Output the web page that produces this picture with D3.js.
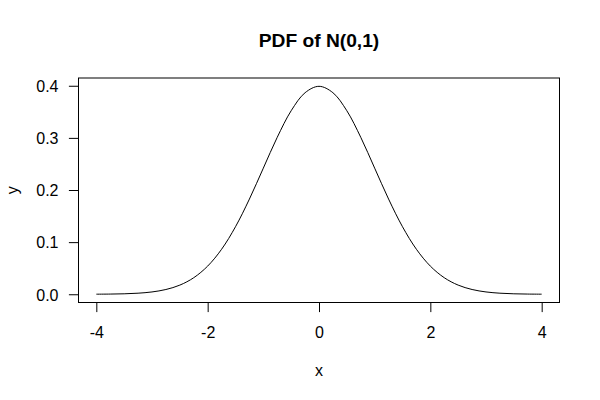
<!DOCTYPE html>
<html>
<head>
<meta charset="utf-8">
<script src="https://cdn.jsdelivr.net/npm/d3@7"></script>
<style>
html,body{margin:0;padding:0;background:#fff;}
svg{display:block;}
text{font-family:Arial,"Liberation Sans",sans-serif;fill:#000;}
</style>
</head>
<body>
<svg id="chart" width="600" height="400"></svg>
<script>
// Values (density curve)
const xValues = [-4,-3.75,-3.5,-3.25,-3,-2.75,-2.5,-2.25,-2,-1.75,-1.5,-1.25,-1,-0.75,-0.5,-0.25,0,
                 0.25,0.5,0.75,1,1.25,1.5,1.75,2,2.25,2.5,2.75,3,3.25,3.5,3.75,4];
const yValues = [0.000134,0.000353,0.000873,0.002029,0.004432,0.009094,0.017528,0.031740,0.053991,0.086277,0.129518,0.182649,0.241971,0.301137,0.352065,0.386668,0.398942,
                 0.386668,0.352065,0.301137,0.241971,0.182649,0.129518,0.086277,0.053991,0.031740,0.017528,0.009094,0.004432,0.002029,0.000873,0.000353,0.000134];
const xTicks = [-4,-2,0,2,4];
const xTickLabels = ["-4","-2","0","2","4"];
const yTicks = [0.0,0.1,0.2,0.3,0.4];
const yTickLabels = ["0.0","0.1","0.2","0.3","0.4"];
const titleText = "PDF of N(0,1)";
const xLabel = "x";
const yLabel = "y";

const svg = d3.select("#chart");
const mLeft = 78.5, mRight = 559.5, mTop = 78, mBottom = 302.5;

const xMin = d3.min(xValues), xMax = d3.max(xValues);
const yMin = d3.min(yValues), yMax = d3.max(yValues);
const xPad = (xMax - xMin) * 0.04, yPad = (yMax - yMin) * 0.04;
const x = d3.scaleLinear().domain([xMin - xPad, xMax + xPad]).range([mLeft, mRight]);
const y = d3.scaleLinear().domain([yMin - yPad, yMax + yPad]).range([mBottom, mTop]);

const pts = xValues.map((v,i)=>[v,yValues[i]]);
svg.append("path")
  .attr("d", d3.line().x(d=>x(d[0])).y(d=>y(d[1])).curve(d3.curveCatmullRom.alpha(0.5))(pts))
  .attr("fill","none").attr("stroke","#000").attr("stroke-width",1);

// box
svg.append("rect").attr("x",mLeft).attr("y",mTop).attr("width",mRight-mLeft).attr("height",mBottom-mTop)
  .attr("fill","none").attr("stroke","#000").attr("stroke-width",1);

// x axis
const xAxis = d3.axisBottom(x).tickValues(xTicks).tickSize(9.6).tickPadding(0)
  .tickFormat((d,i)=>xTickLabels[i]);
const gx = svg.append("g").attr("transform",`translate(0,${mBottom})`).call(xAxis);
gx.select(".domain").remove();
gx.selectAll(".tick line").attr("stroke","#000");
gx.selectAll(".tick text").attr("y",null).attr("dy",null).attr("font-size",16)
  .attr("font-family","Arial, 'Liberation Sans', sans-serif").attr("fill","#000")
  .attr("transform","translate(0,35)");

// y axis
const yAxis = d3.axisLeft(y).tickValues(yTicks).tickSize(9.6).tickPadding(0)
  .tickFormat((d,i)=>yTickLabels[i]);
const gy = svg.append("g").attr("transform",`translate(${mLeft},0)`).call(yAxis);
gy.select(".domain").remove();
gy.selectAll(".tick line").attr("stroke","#000");
gy.selectAll(".tick text").attr("x",-20).attr("dy",null).attr("font-size",16)
  .attr("font-family","Arial, 'Liberation Sans', sans-serif").attr("fill","#000")
  .attr("text-anchor","end").attr("transform","translate(0,5.8)");

// title & labels
svg.append("text").attr("x",(mLeft+mRight)/2).attr("y",47).attr("text-anchor","middle")
  .attr("font-size",19.2).attr("font-weight","bold").text(titleText);
svg.append("text").attr("x",(mLeft+mRight)/2).attr("y",375.5).attr("text-anchor","middle")
  .attr("font-size",16).text(xLabel);
svg.append("text").attr("transform",`translate(17.5,${(mTop+mBottom)/2}) rotate(-90)`).attr("text-anchor","middle")
  .attr("font-size",16).text(yLabel);
</script>
</body>
</html>
